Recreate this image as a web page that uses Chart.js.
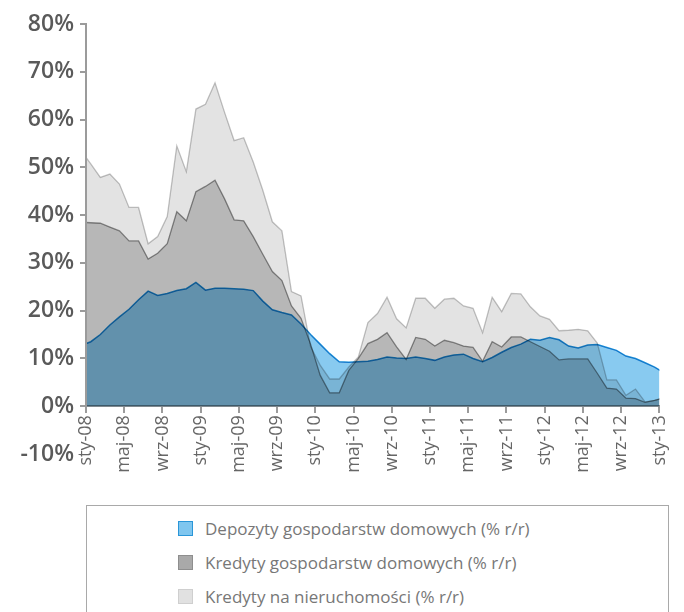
<!DOCTYPE html>
<html>
<head>
<meta charset="utf-8">
<script src="https://cdn.jsdelivr.net/npm/chart.js@4.4.0/dist/chart.umd.min.js"></script>
<style>
  html, body { margin: 0; padding: 0; background: #fff; }
  #wrap { position: relative; width: 684px; height: 612px; overflow: hidden; }
  #chart { position: absolute; left: 0; top: 0; }
  #legend {
    position: absolute; left: 86px; top: 505px; width: 583px; height: 140px;
    border: 1px solid #a9a9a9; box-sizing: border-box;
    font-family: 'Open Sans', sans-serif; font-size: 17px; color: #777;
  }
  #legend ul { list-style: none; margin: 0; padding: 5px 0 0 91px; }
  #legend li { display: flex; align-items: center; height: 34px; }
  #legend .box { width: 15px; height: 15px; box-sizing: border-box; border: 1px solid; margin-right: 12px; }
</style>
</head>
<body>
<div id="wrap">
  <canvas id="chart" width="684" height="505"></canvas>
  <div id="legend"></div>
</div>
<script>
// miesiące (punkty w połowie miesiąca, od gru-07 do sty-13)
const months = [
  'gru-07',
  'sty-08','lut-08','mar-08','kwi-08','maj-08','cze-08','lip-08','sie-08','wrz-08','paź-08','lis-08','gru-08',
  'sty-09','lut-09','mar-09','kwi-09','maj-09','cze-09','lip-09','sie-09','wrz-09','paź-09','lis-09','gru-09',
  'sty-10','lut-10','mar-10','kwi-10','maj-10','cze-10','lip-10','sie-10','wrz-10','paź-10','lis-10','gru-10',
  'sty-11','lut-11','mar-11','kwi-11','maj-11','cze-11','lip-11','sie-11','wrz-11','paź-11','lis-11','gru-11',
  'sty-12','lut-12','mar-12','kwi-12','maj-12','cze-12','lip-12','sie-12','wrz-12','paź-12','lis-12','gru-12',
  'sty-13'
];

// etykiety osi X co 4 miesiące
const tickLabels = ['sty-08','maj-08','wrz-08','sty-09','maj-09','wrz-09','sty-10','maj-10',
  'wrz-10','sty-11','maj-11','wrz-11','sty-12','maj-12','wrz-12','sty-13'];

const depozyty = [
  12.7, 13.5, 15.0, 17.0, 18.7, 20.3, 22.3, 24.1, 23.2, 23.6, 24.2, 24.6, 25.9,
  24.3, 24.7, 24.7, 24.6, 24.5, 24.2, 22.0, 20.2, 19.6, 19.1, 17.2, 15.0,
  13.0, 11.0, 9.3, 9.2, 9.3, 9.4, 9.8, 10.3, 10.1, 10.0, 10.3, 10.0,
  9.6, 10.3, 10.7, 10.9, 10.0, 9.3, 10.2, 11.3, 12.3, 13.0, 14.0, 13.8,
  14.4, 13.9, 12.6, 12.2, 12.8, 12.9, 12.3, 11.7, 10.5, 10.0, 9.1, 8.2,
  7.0
];

const kredytyGosp = [
  38.5, 38.4, 38.3, 37.5, 36.7, 34.6, 34.6, 30.8, 32.0, 34.0, 40.7, 38.8, 44.9,
  46.0, 47.3, 43.4, 39.0, 38.8, 35.5, 31.8, 28.2, 26.3, 21.0, 18.4, 13.0,
  6.5, 2.8, 2.8, 7.5, 10.0, 13.1, 14.0, 15.4, 12.4, 9.8, 14.4, 14.0,
  12.6, 13.8, 13.3, 12.6, 12.3, 9.4, 13.5, 12.4, 14.5, 14.5, 13.5, 12.5,
  11.5, 9.7, 9.9, 9.9, 9.9, 6.9, 3.8, 3.6, 1.7, 1.6, 0.8, 1.2,
  1.8
];

const kredytyNier = [
  53.5, 50.7, 47.9, 48.6, 46.5, 41.6, 41.6, 34.0, 35.5, 39.7, 54.5, 49.1, 62.2,
  63.2, 67.7, 61.5, 55.6, 56.2, 51.1, 45.2, 38.6, 36.7, 24.0, 23.1, 12.5,
  8.6, 5.7, 5.7, 8.2, 10.3, 17.5, 19.4, 22.8, 18.3, 16.4, 22.6, 22.6,
  20.5, 22.4, 22.6, 21.0, 20.5, 15.4, 22.8, 19.8, 23.6, 23.5, 20.8, 18.9,
  18.2, 15.8, 15.9, 16.1, 15.8, 13.2, 5.5, 5.5, 2.3, 3.6, 0.9, 1.2,
  1.8
];

const seriesNames = [
  'Depozyty gospodarstw domowych (% r/r)',
  'Kredyty gospodarstw domowych (% r/r)',
  'Kredyty na nieruchomości (% r/r)'
];

// punkt w połowie miesiąca: indeks miesiąca - 0.5 na osi liniowej
const toPoints = arr => arr.map((v, i) => ({ x: i - 0.5, y: v }));

// mnożenie kolorów przy nakładaniu się obszarów
const multiplyPlugin = {
  id: 'multiply',
  beforeDatasetsDraw(chart) {
    chart.ctx.save();
    chart.ctx.globalCompositeOperation = 'multiply';
  },
  afterDatasetsDraw(chart) {
    chart.ctx.restore();
  }
};

// oś Y rysowana tylko od 0% do 80%
const yAxisLine = {
  id: 'yAxisLine',
  afterDatasetsDraw(chart) {
    const { ctx, chartArea, scales: { y } } = chart;
    ctx.save();
    ctx.strokeStyle = '#9b9b9b';
    ctx.lineWidth = 2;
    ctx.beginPath();
    ctx.moveTo(chartArea.left, y.getPixelForValue(y.max) - 1);
    ctx.lineTo(chartArea.left, y.getPixelForValue(0) + 1);
    ctx.stroke();
    ctx.restore();
  }
};

const chart = new Chart(document.getElementById('chart'), {
  type: 'line',
  data: {
    datasets: [
      {
        label: seriesNames[0],
        data: toPoints(depozyty),
        fill: 'origin',
        backgroundColor: '#88caf0',
        borderColor: '#1b8fd6',
        borderWidth: 1.5
      },
      {
        label: seriesNames[1],
        data: toPoints(kredytyGosp),
        fill: 'origin',
        backgroundColor: '#cecece',
        borderColor: '#959595',
        borderWidth: 1.3
      },
      {
        label: seriesNames[2],
        data: toPoints(kredytyNier),
        fill: 'origin',
        backgroundColor: '#e3e3e3',
        borderColor: '#c4c4c4',
        borderWidth: 1.3
      }
    ]
  },
  options: {
    responsive: false,
    animation: false,
    clip: 0,
    elements: { point: { radius: 0 }, line: { tension: 0 } },
    layout: { padding: { top: 24, right: 15, bottom: 51, left: 0 } },
    plugins: { legend: { display: false }, tooltip: { enabled: false } },
    scales: {
      x: {
        type: 'linear',
        min: 0,
        max: 60,
        position: { y: 0 },
        z: 1,
        ticks: {
          stepSize: 4,
          autoSkip: false,
          minRotation: 90,
          maxRotation: 90,
          padding: 3,
          color: '#666',
          font: { family: 'Open Sans', size: 18 },
          callback: v => tickLabels[v / 4]
        },
        grid: { drawOnChartArea: false, tickLength: 6, tickColor: '#9b9b9b', lineWidth: 2 },
        border: { color: '#9b9b9b', width: 2 }
      },
      y: {
        min: -10,
        max: 80,
        ticks: {
          stepSize: 10,
          padding: 6,
          color: '#5a5a5a',
          font: { family: 'Open Sans', size: 23, weight: '600' },
          callback: v => v + '%'
        },
        grid: {
          drawOnChartArea: false,
          tickLength: 6,
          lineWidth: 2,
          tickColor: c => (c.tick && c.tick.value < 0) ? 'rgba(0,0,0,0)' : '#9b9b9b'
        },
        border: { display: false },
        afterFit: s => { s.width = 86; }
      }
    }
  },
  plugins: [multiplyPlugin, yAxisLine]
});

// legenda HTML
const legendColors = [
  { fill: '#7fc6ef', stroke: '#2a96d8' },
  { fill: '#a9a9a9', stroke: '#8e8e8e' },
  { fill: '#e1e1e1', stroke: '#cfcfcf' }
];
const ul = document.createElement('ul');
chart.data.datasets.forEach((ds, i) => {
  const li = document.createElement('li');
  const box = document.createElement('span');
  box.className = 'box';
  box.style.background = legendColors[i].fill;
  box.style.borderColor = legendColors[i].stroke;
  const txt = document.createElement('span');
  txt.textContent = ds.label;
  li.appendChild(box);
  li.appendChild(txt);
  ul.appendChild(li);
});
document.getElementById('legend').appendChild(ul);
</script>
</body>
</html>
